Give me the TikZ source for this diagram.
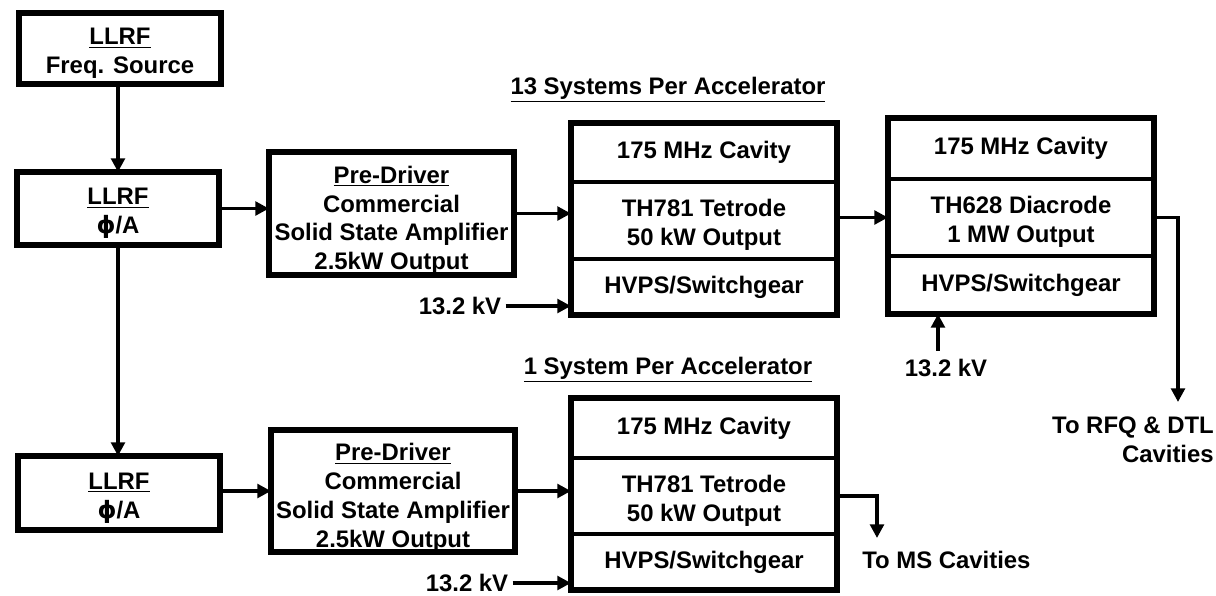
\documentclass[tikz,border=0pt]{standalone}
\usepackage{fontspec}
\setmainfont{Liberation Sans}
\newfontfamily\phifont{DejaVu Sans}
\usepackage{tikz}
\usetikzlibrary{arrows.meta, positioning, fit, calc}

\newcommand{\phase}{{\phifont ϕ}/A}
\newcommand{\lowrow}[1]{\rule{0pt}{#1}}

\begin{document}
\begin{tikzpicture}[
    x=0.025cm, y=-0.025cm,
    every node/.style={font=\fontsize{17}{20.5}\selectfont\bfseries},
    box/.style={draw, line width=4.2pt, outer sep=0pt, inner sep=0pt, align=center},
    cell/.style={draw, line width=3pt, outer sep=0pt, inner sep=0pt, minimum width=6.65cm, align=center},
    stack/.style={draw, line width=4.4pt, outer sep=0pt, inner sep=0pt},
    lbl/.style={inner sep=0pt, align=center},
    arr/.style={-{Triangle[length=3.4mm, width=3.4mm]}, line width=2.6pt},
]
\useasboundingbox (0,0) rectangle (1216,595);

% LLRF chain
\node[box, minimum width=5.05cm, minimum height=1.775cm] (src) at (120,48.5) {\lowrow{19pt}\underline{LLRF}\\Freq. Source};
\node[box, minimum width=5.05cm, minimum height=1.825cm] (llrf1) at (118,208.5) {\lowrow{19pt}\underline{LLRF}\\\phase};
\node[box, minimum width=5.05cm, minimum height=1.85cm] (llrf2) at (119,493) {\lowrow{19pt}\underline{LLRF}\\\phase};

% Pre-Drivers
\node[box, minimum width=6.125cm, minimum height=3.025cm] (pd1) at (391.5,213.5) {\lowrow{22pt}\underline{Pre-Driver}\\Commercial\\Solid State Amplifier\\2.5kW Output};
\node[box, minimum width=6.1cm, minimum height=2.95cm] (pd2) at (393,491) {\lowrow{22pt}\underline{Pre-Driver}\\Commercial\\Solid State Amplifier\\2.5kW Output};

% 13 Systems Per Accelerator
\node[lbl] (head1) at (668,90) {\underline{13 Systems Per Accelerator}};
\node[cell, minimum height=1.475cm] (cav1) at (704,152.5) {175 MHz Cavity};
\node[cell, minimum height=1.925cm] (tube1) at (704,220.5) {\lowrow{19pt}TH781 Tetrode\\50 kW Output};
\node[cell, minimum height=1.4cm] (ps1) at (704,287) {HVPS/Switchgear};
\node[stack, fit=(cav1)(ps1)] (stk1) {};

\node[cell, minimum height=1.525cm] (cav2) at (1021,148.5) {175 MHz Cavity};
\node[cell, minimum height=1.925cm] (tube2) at (1021,217.5) {\lowrow{19pt}TH628 Diacrode\\1 MW Output};
\node[cell, minimum height=1.45cm] (ps2) at (1021,285) {HVPS/Switchgear};
\node[stack, fit=(cav2)(ps2)] (stk2) {};

% 1 System Per Accelerator
\node[lbl] (head2) at (668,370) {\underline{1 System Per Accelerator}};
\node[cell, minimum height=1.5cm] (cav3) at (704,428) {175 MHz Cavity};
\node[cell, minimum height=1.9cm] (tube3) at (704,496) {\lowrow{19pt}TH781 Tetrode\\50 kW Output};
\node[cell, minimum height=1.4cm] (ps3) at (704,562) {HVPS/Switchgear};
\node[stack, fit=(cav3)(ps3)] (stk3) {};

% Supplies and outputs
\node[lbl] (hv1) at (460,306) {13.2 kV};
\node[lbl] (hv2) at (946,368) {13.2 kV};
\node[lbl] (hv3) at (467,583) {13.2 kV};
\node[lbl, align=right, anchor=east] (rfq) at (1214,440) {To RFQ \& DTL\\Cavities};
\node[lbl, anchor=west] (ms) at (862,560) {To MS Cavities};
\coordinate (rfqin) at (1178,402);
\coordinate (msin) at (877,538);

% Connections
\draw[arr] (llrf1.north |- src.south) -- (llrf1.north);
\draw[arr] (llrf1.south) -- (llrf1.south |- llrf2.north);
\draw[arr] (llrf1.east) -- (llrf1.east -| pd1.west);
\draw[arr] (pd2.west -| llrf2.east) -- (pd2.west);
\draw[arr] (pd1.east) -- (pd1.east -| stk1.west);
\draw[arr] (pd2.east) -- (pd2.east -| stk3.west);
\draw[arr] (tube2.west -| stk1.east) -- (stk2.west |- tube2.west);
\draw[arr] ([xshift=3pt]hv1.east) -- (hv1.east -| stk1.west);
\draw[arr] ([xshift=3pt]hv3.east) -- (hv3.east -| stk3.west);
\draw[arr] ([xshift=-0.2cm,yshift=0.2cm]hv2.north) -- ([xshift=-0.2cm]hv2.north |- stk2.south);
\draw[arr] (tube2.east -| stk2.east) -| (rfqin);
\draw[arr] (tube3.east -| stk3.east) -| (msin);
\end{tikzpicture}
\end{document}
